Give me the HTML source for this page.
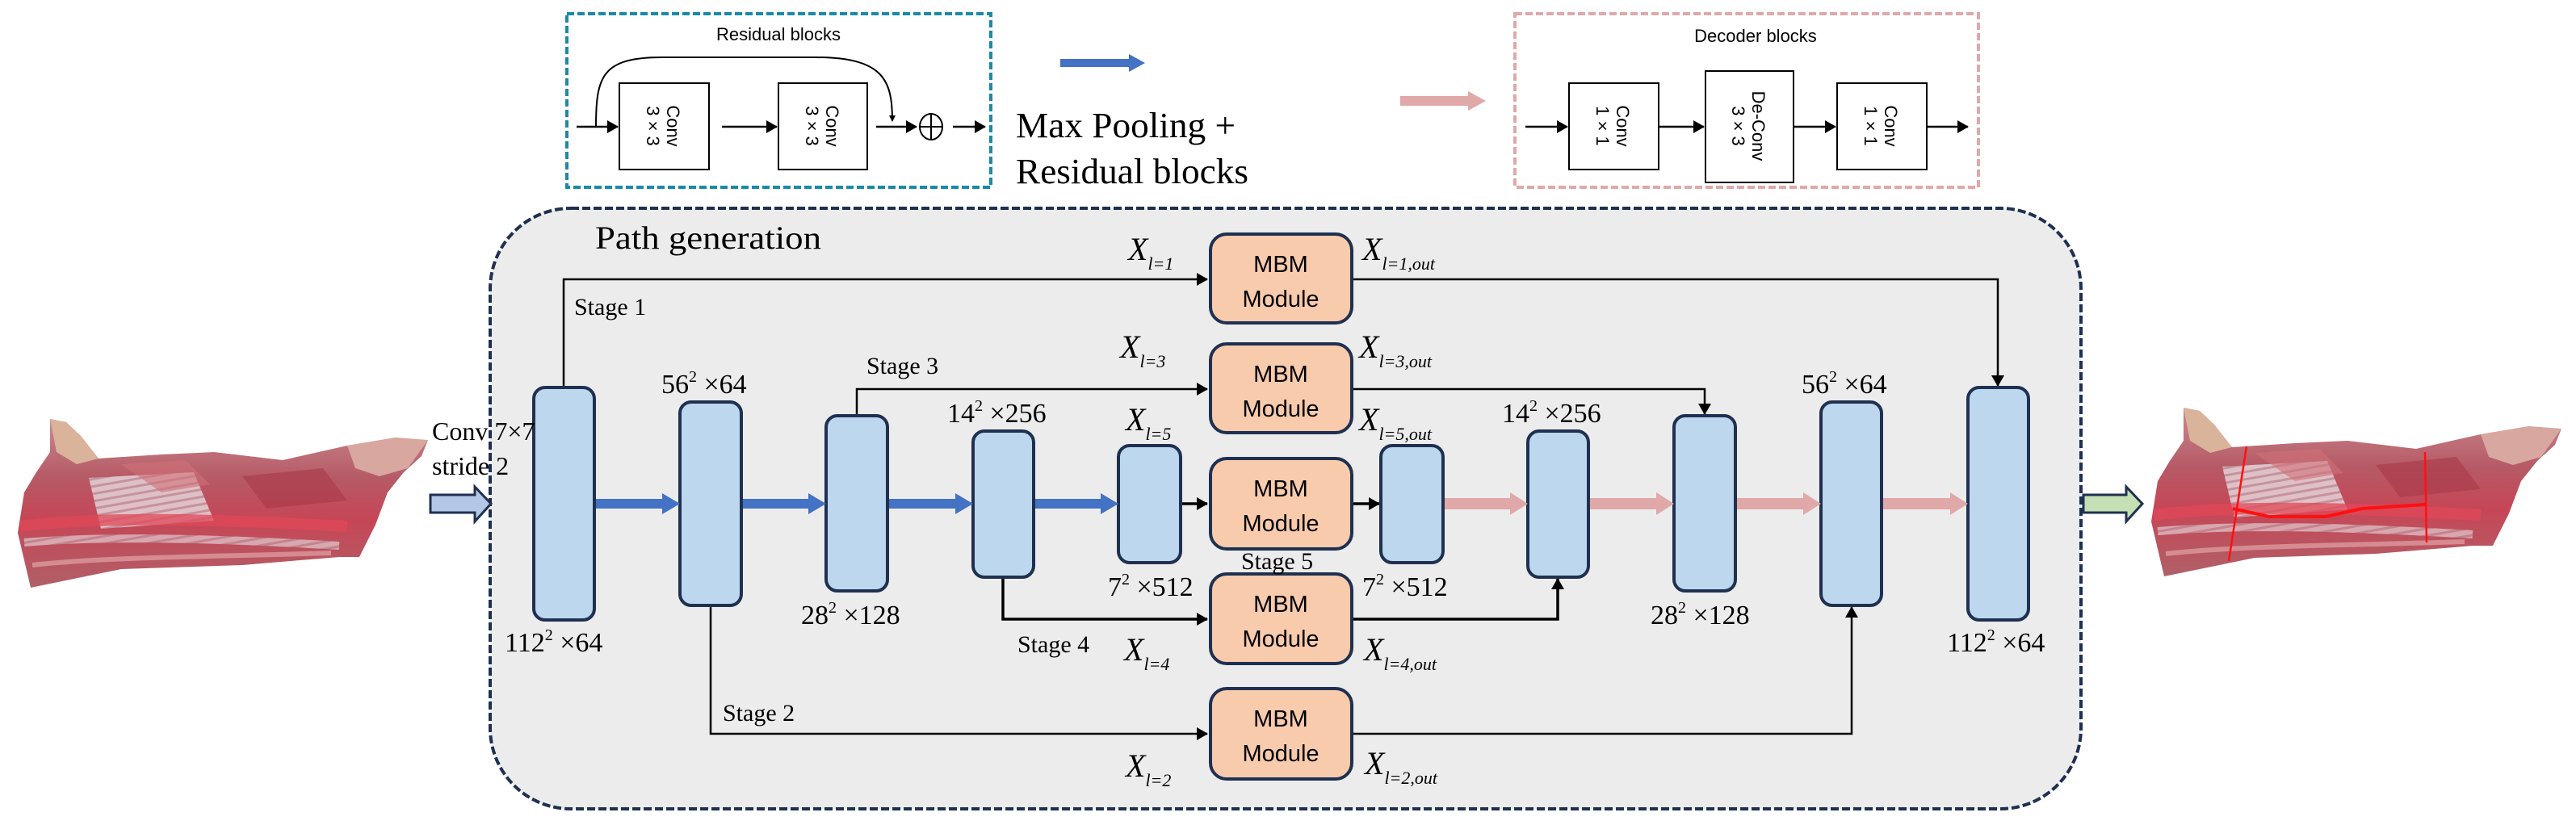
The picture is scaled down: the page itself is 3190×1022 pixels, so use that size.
<!DOCTYPE html>
<html><head><meta charset="utf-8"><style>
html,body{margin:0;padding:0;background:#fff;}
svg{display:block;}
.serif{font-family:"Liberation Serif",serif;}
.sans{font-family:"Liberation Sans",sans-serif;}
</style></head><body>
<svg width="3190" height="1022" viewBox="0 0 3190 1022" xmlns="http://www.w3.org/2000/svg">
<defs>
<marker id="ah" markerWidth="8" markerHeight="8" refX="7" refY="4" orient="auto" markerUnits="userSpaceOnUse" viewBox="0 0 8 8"><path d="M0,0 L8,4 L0,8 z" fill="#000"/></marker>
<marker id="ah2" markerWidth="14" markerHeight="16" refX="13" refY="8" orient="auto" markerUnits="userSpaceOnUse" viewBox="0 0 14 16"><path d="M0,0 L14,8 L0,16 z" fill="#000"/></marker>
<linearGradient id="meat" x1="0" y1="0" x2="0" y2="1">
<stop offset="0" stop-color="#c98a8e"/><stop offset="0.35" stop-color="#b65a66"/><stop offset="0.6" stop-color="#c64656"/><stop offset="1" stop-color="#b06068"/></linearGradient>
<pattern id="ribs" width="9" height="9" patternUnits="userSpaceOnUse" patternTransform="rotate(80)">
<rect width="9" height="9" fill="#e2cdd2"/><rect width="3" height="9" fill="#c69aa3"/></pattern>
<g id="meatg">
<path d="M62,519 L82,523 L100,540 L122,568 L200,563 L265,560 L350,570 L430,552 L490,542 L515,546 L530,545 L522,565 L500,585 L480,610 L465,650 L445,690 L420,690 L300,700 L150,705 L38,728 L22,660 L30,610 L45,585 L62,560 z" fill="url(#meat)"/>
<path d="M62,519 L82,523 L100,540 L122,568 L95,575 L70,560 z" fill="#d9b39a"/>
<path d="M430,552 L490,542 L530,545 L505,580 L470,590 L440,580 z" fill="#d7a7a0"/>
<path d="M110,592 L240,585 L265,645 L125,655 z" fill="url(#ribs)" opacity="0.9"/>
<path d="M150,575 L230,570 L260,600 L200,610 z" fill="#d07078" opacity="0.6"/>
<path d="M300,590 L400,580 L430,620 L330,630 z" fill="#a83848" opacity="0.6"/>
<path d="M25,652 C120,640 250,642 430,652" stroke="#e04858" stroke-width="14" fill="none" opacity="0.75"/>
<path d="M30,672 C130,664 250,666 420,676" stroke="url(#ribs)" stroke-width="10" fill="none" opacity="0.7"/>
<path d="M40,700 C130,690 250,690 410,685" stroke="#e8b0b0" stroke-width="6" fill="none" opacity="0.6"/>
</g>
</defs>

<!-- Residual blocks box -->
<rect x="702" y="17" width="525" height="215" fill="#fff" stroke="#1a8aa8" stroke-width="4" stroke-dasharray="9,4"/>
<text x="964" y="50" class="sans" font-size="22" text-anchor="middle">Residual blocks</text>
<rect x="767" y="103" width="111" height="107" fill="#fff" stroke="#000" stroke-width="2"/>
<rect x="964" y="103" width="110" height="107" fill="#fff" stroke="#000" stroke-width="2"/>
<text transform="translate(822,156) rotate(90)" class="sans" font-size="22" text-anchor="middle"><tspan x="0" dy="-4">Conv</tspan><tspan x="0" dy="25">3 × 3</tspan></text>
<text transform="translate(1019,156) rotate(90)" class="sans" font-size="22" text-anchor="middle"><tspan x="0" dy="-4">Conv</tspan><tspan x="0" dy="25">3 × 3</tspan></text>
<line x1="714" y1="157" x2="765" y2="157" stroke="#000" stroke-width="2.5" marker-end="url(#ah2)"/>
<line x1="894" y1="157" x2="962" y2="157" stroke="#000" stroke-width="2.5" marker-end="url(#ah2)"/>
<line x1="1085" y1="157" x2="1135" y2="157" stroke="#000" stroke-width="2.5" marker-end="url(#ah2)"/>
<path d="M738,157 C738,95 745,71 820,71 L1010,71 C1095,71 1105,100 1105,150" fill="none" stroke="#000" stroke-width="2" marker-end="url(#ah)"/>
<ellipse cx="1153" cy="157" rx="14" ry="16" fill="none" stroke="#000" stroke-width="2"/>
<line x1="1139" y1="157" x2="1167" y2="157" stroke="#000" stroke-width="2"/>
<line x1="1153" y1="141" x2="1153" y2="173" stroke="#000" stroke-width="2"/>
<line x1="1180" y1="157" x2="1220" y2="157" stroke="#000" stroke-width="2.5" marker-end="url(#ah2)"/>
<text x="1258" y="170" class="serif" font-size="44" textLength="272" lengthAdjust="spacingAndGlyphs">Max Pooling +</text>
<text x="1258" y="227" class="serif" font-size="44" textLength="288" lengthAdjust="spacingAndGlyphs">Residual blocks</text>
<path d="M1313,73 L1398,73 L1398,67 L1418,78 L1398,89 L1398,83 L1313,83 z" fill="#4472c4"/>
<path d="M1734,119 L1818,119 L1818,113 L1840,125 L1818,137 L1818,131 L1734,131 z" fill="#e0a8a8"/>

<!-- Decoder blocks box -->
<rect x="1876" y="17" width="574" height="215" fill="#fff" stroke="#e0a8a8" stroke-width="4" stroke-dasharray="9,4"/>
<text x="2174" y="52" class="sans" font-size="22" text-anchor="middle">Decoder blocks</text>
<rect x="1943" y="103" width="111" height="107" fill="#fff" stroke="#000" stroke-width="2"/>
<rect x="2112" y="88" width="109" height="138" fill="#fff" stroke="#000" stroke-width="2"/>
<rect x="2275" y="103" width="111" height="107" fill="#fff" stroke="#000" stroke-width="2"/>
<text transform="translate(1998,156) rotate(90)" class="sans" font-size="22" text-anchor="middle"><tspan x="0" dy="-4">Conv</tspan><tspan x="0" dy="25">1 × 1</tspan></text>
<text transform="translate(2166,156) rotate(90)" class="sans" font-size="22" text-anchor="middle"><tspan x="0" dy="-4">De-Conv</tspan><tspan x="0" dy="25">3 × 3</tspan></text>
<text transform="translate(2330,156) rotate(90)" class="sans" font-size="22" text-anchor="middle"><tspan x="0" dy="-4">Conv</tspan><tspan x="0" dy="25">1 × 1</tspan></text>
<line x1="1889" y1="157" x2="1941" y2="157" stroke="#000" stroke-width="2.5" marker-end="url(#ah2)"/>
<line x1="2054" y1="157" x2="2110" y2="157" stroke="#000" stroke-width="2.5" marker-end="url(#ah2)"/>
<line x1="2221" y1="157" x2="2273" y2="157" stroke="#000" stroke-width="2.5" marker-end="url(#ah2)"/>
<line x1="2386" y1="157" x2="2437" y2="157" stroke="#000" stroke-width="2.5" marker-end="url(#ah2)"/>

<!-- main box -->
<rect x="607" y="258" width="1970" height="744" rx="100" ry="100" fill="#ececec" stroke="#1f3050" stroke-width="4" stroke-dasharray="10,4"/>
<text x="737" y="308" class="serif" font-size="40" textLength="280" lengthAdjust="spacingAndGlyphs">Path generation</text>

<g stroke="#000" stroke-width="2.5" fill="none">
<polyline points="698,480 698,346 1495,346" marker-end="url(#ah2)"/>
<polyline points="1674,346 2474,346 2474,478" marker-end="url(#ah2)"/>
<polyline points="1061,515 1061,482 1495,482" marker-end="url(#ah2)"/>
<polyline points="1674,482 2111,482 2111,513" marker-end="url(#ah2)"/>
<polyline points="1462,624 1495,624" marker-end="url(#ah2)" stroke-width="3.5"/>
<polyline points="1674,624 1708,624" marker-end="url(#ah2)" stroke-width="3.5"/>
<polyline points="1242,715 1242,767 1495,767" marker-end="url(#ah2)" stroke-width="3.5"/>
<polyline points="1674,767 1929,767 1929,717" marker-end="url(#ah2)" stroke-width="3.5"/>
<polyline points="880,750 880,909 1495,909" marker-end="url(#ah2)"/>
<polyline points="1674,909 2293,909 2293,752" marker-end="url(#ah2)"/>
</g>

<g fill="#bdd7ee" stroke="#1f3050" stroke-width="4">
<rect x="661" y="480" width="75" height="288" rx="14"/>
<rect x="842" y="498" width="76" height="252" rx="14"/>
<rect x="1023" y="515" width="76" height="217" rx="14"/>
<rect x="1205" y="534" width="75" height="181" rx="14"/>
<rect x="1385" y="552" width="77" height="145" rx="14"/>
<rect x="1710" y="552" width="77" height="145" rx="14"/>
<rect x="1892" y="534" width="75" height="181" rx="14"/>
<rect x="2073" y="515" width="76" height="217" rx="14"/>
<rect x="2255" y="498" width="75" height="252" rx="14"/>
<rect x="2437" y="480" width="75" height="288" rx="14"/>
</g>
<g fill="#4472c4">
<path d="M738,618 L820,618 L820,611 L842,624 L820,637 L820,630 L738,630 z"/>
<path d="M920,618 L1001,618 L1001,611 L1023,624 L1001,637 L1001,630 L920,630 z"/>
<path d="M1101,618 L1183,618 L1183,611 L1205,624 L1183,637 L1183,630 L1101,630 z"/>
<path d="M1282,618 L1363,618 L1363,611 L1385,624 L1363,637 L1363,630 L1282,630 z"/>
</g>
<g fill="#e0a8a8">
<path d="M1789,617 L1870,617 L1870,610 L1892,624 L1870,638 L1870,631 L1789,631 z"/>
<path d="M1969,617 L2051,617 L2051,610 L2073,624 L2051,638 L2051,631 L1969,631 z"/>
<path d="M2151,617 L2233,617 L2233,610 L2255,624 L2233,638 L2233,631 L2151,631 z"/>
<path d="M2332,617 L2415,617 L2415,610 L2437,624 L2415,638 L2415,631 L2332,631 z"/>
</g>

<g fill="#f8cbad" stroke="#1f3050" stroke-width="4">
<rect x="1499" y="290" width="175" height="110" rx="20"/>
<rect x="1499" y="426" width="175" height="110" rx="20"/>
<rect x="1499" y="568" width="175" height="112" rx="20"/>
<rect x="1499" y="711" width="175" height="111" rx="20"/>
<rect x="1499" y="853" width="175" height="112" rx="20"/>
</g>
<g class="sans" font-size="29" text-anchor="middle">
<text x="1586" y="337">MBM</text><text x="1586" y="380">Module</text>
<text x="1586" y="473">MBM</text><text x="1586" y="516">Module</text>
<text x="1586" y="615">MBM</text><text x="1586" y="658">Module</text>
<text x="1586" y="758">MBM</text><text x="1586" y="801">Module</text>
<text x="1586" y="900">MBM</text><text x="1586" y="943">Module</text>
</g>

<g class="serif" font-size="30">
<text x="711" y="390">Stage 1</text>
<text x="1073" y="463">Stage 3</text>
<text x="1260" y="808">Stage 4</text>
<text x="1537" y="705">Stage 5</text>
<text x="895" y="893">Stage 2</text>
</g>

<g class="serif" font-size="34">
<text x="819" y="487">56<tspan dy="-14" font-size="20">2</tspan><tspan dy="14"> ×64</tspan></text>
<text x="1173" y="523">14<tspan dy="-14" font-size="20">2</tspan><tspan dy="14"> ×256</tspan></text>
<text x="992" y="773">28<tspan dy="-14" font-size="20">2</tspan><tspan dy="14"> ×128</tspan></text>
<text x="625" y="807">112<tspan dy="-14" font-size="20">2</tspan><tspan dy="14"> ×64</tspan></text>
<text x="1372" y="738">7<tspan dy="-14" font-size="20">2</tspan><tspan dy="14"> ×512</tspan></text>
<text x="1687" y="738">7<tspan dy="-14" font-size="20">2</tspan><tspan dy="14"> ×512</tspan></text>
<text x="1860" y="523">14<tspan dy="-14" font-size="20">2</tspan><tspan dy="14"> ×256</tspan></text>
<text x="2044" y="773">28<tspan dy="-14" font-size="20">2</tspan><tspan dy="14"> ×128</tspan></text>
<text x="2231" y="487">56<tspan dy="-14" font-size="20">2</tspan><tspan dy="14"> ×64</tspan></text>
<text x="2411" y="807">112<tspan dy="-14" font-size="20">2</tspan><tspan dy="14"> ×64</tspan></text>
</g>

<g class="serif" font-style="italic" font-size="40">
<text x="1397" y="322">X<tspan font-size="22" dy="12">l=1</tspan></text>
<text x="1387" y="443">X<tspan font-size="22" dy="12">l=3</tspan></text>
<text x="1394" y="533">X<tspan font-size="22" dy="12">l=5</tspan></text>
<text x="1392" y="818">X<tspan font-size="22" dy="12">l=4</tspan></text>
<text x="1394" y="962">X<tspan font-size="22" dy="12">l=2</tspan></text>
<text x="1687" y="322">X<tspan font-size="22" dy="12">l=1,out</tspan></text>
<text x="1683" y="443">X<tspan font-size="22" dy="12">l=3,out</tspan></text>
<text x="1683" y="533">X<tspan font-size="22" dy="12">l=5,out</tspan></text>
<text x="1689" y="818">X<tspan font-size="22" dy="12">l=4,out</tspan></text>
<text x="1690" y="959">X<tspan font-size="22" dy="12">l=2,out</tspan></text>
</g>

<text x="535" y="545" class="serif" font-size="32">Conv 7×7</text>
<text x="535" y="588" class="serif" font-size="32">stride 2</text>
<path d="M533,613 L588,613 L588,603 L608,624 L588,646 L588,635 L533,635 z" fill="#b4c7e7" stroke="#1f3050" stroke-width="3"/>
<path d="M2580,613 L2633,613 L2633,603 L2653,624 L2633,646 L2633,635 L2580,635 z" fill="#c5e0b4" stroke="#1f3050" stroke-width="3"/>

<use href="#meatg"/>
<use href="#meatg" transform="translate(2642,-14)"/>
<g stroke="#ff1010" fill="none">
<line x1="2782" y1="553" x2="2760" y2="695" stroke-width="2.5"/>
<line x1="3003" y1="560" x2="3005" y2="672" stroke-width="2.5"/>
<path d="M2765,630 L2810,640 L2880,640 L2925,630 L3003,625" stroke-width="4"/>
</g>
</svg>
</body></html>
